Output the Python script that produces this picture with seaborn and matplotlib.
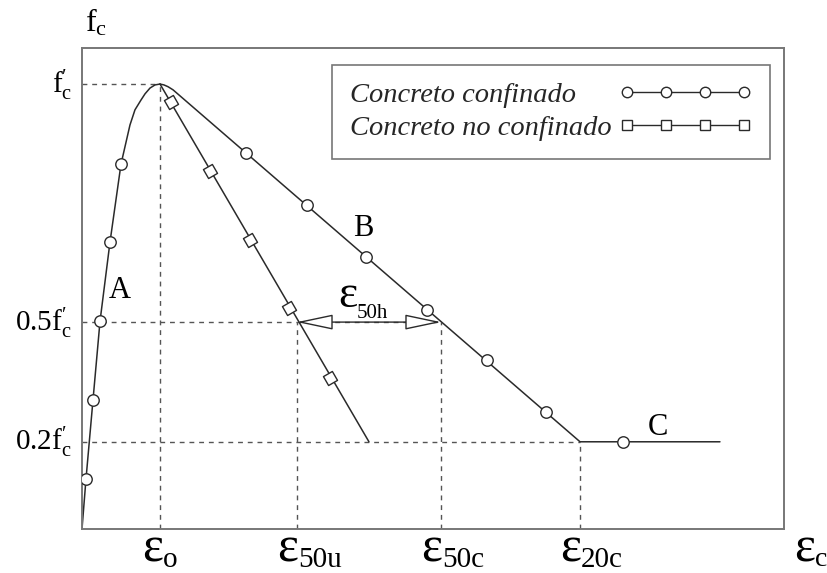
import matplotlib
matplotlib.use("Agg")
import matplotlib.pyplot as plt
import seaborn as sns
from matplotlib.lines import Line2D

# ---------------- data (strain in units of eps_o, stress in units of f'c, as drawn) -------------
eps_tick_pos = [1.0, 2.756, 4.603, 6.385]
eps_tick_subs = ["o", "50u", "50c", "20c"]
fc_tick_pos = [1.0, 0.465, 0.196]
fc_tick_labels = [r"$\mathrm{f}_{\mathrm{c}}^{\prime}$",
                  r"$\mathrm{0.5f}_{\mathrm{c}}^{\prime}$",
                  r"$\mathrm{0.2f}_{\mathrm{c}}^{\prime}$"]

# ascending branch (region A), shared by both concretes
asc_x = [0.0, 0.051, 0.141, 0.231, 0.359, 0.500, 0.615, 0.679, 0.756, 0.808, 0.872, 0.936, 1.0]
asc_y = [0.0, 0.112, 0.290, 0.467, 0.645, 0.820, 0.908, 0.942, 0.964, 0.978, 0.991, 0.998, 1.0]
asc_mk_x = [0.051, 0.141, 0.231, 0.359, 0.500]
asc_mk_y = [0.112, 0.290, 0.467, 0.645, 0.820]

# confined descending branch (B) and plateau (C)
conf_x = [1.0, 1.051, 1.103, 1.167, 6.385, 8.179]
conf_y = [1.0, 0.998, 0.994, 0.987, 0.196, 0.196]
conf_mk_x = [2.103, 2.885, 3.641, 4.423, 5.192, 5.949, 6.936]
conf_mk_y = [0.845, 0.728, 0.611, 0.492, 0.380, 0.263, 0.196]

# unconfined descending branch
unc_x = [1.0, 3.679]
unc_y = [1.0, 0.196]
unc_mk_x = [1.141, 1.641, 2.154, 2.654, 3.179]
unc_mk_y = [0.960, 0.804, 0.649, 0.497, 0.339]

legend_labels = ["Concreto confinado", "Concreto no confinado"]

# ---------------- style ----------------
sns.set_theme(style="white")
plt.rcParams.update({
    "font.family": ["Liberation Serif", "DejaVu Serif"],
    "mathtext.fontset": "custom",
    "mathtext.rm": "Liberation Serif",
    "mathtext.it": "Liberation Serif:italic",
    "mathtext.bf": "Liberation Serif:bold",
})

LC = "#2a2a2a"
GC = "#555555"
PX = 0.72  # pixels -> points at dpi 100

fig = plt.figure(figsize=(8.28, 5.73), dpi=100)
ax = fig.add_axes([82 / 828, 44 / 573, 702 / 828, 481 / 573])
ax.set_xlim(0, 9.0)
ax.set_ylim(0, 1.081)

# curves
for xs, ys in [(asc_x, asc_y), (conf_x, conf_y), (unc_x, unc_y)]:
    sns.lineplot(x=xs, y=ys, ax=ax, color=LC, lw=1.1, sort=False, estimator=None)

# markers
sns.scatterplot(x=asc_mk_x + conf_mk_x, y=asc_mk_y + conf_mk_y, ax=ax, marker="o", s=68,
                color="white", edgecolor=LC, linewidth=1.0, zorder=5)
sns.scatterplot(x=unc_mk_x, y=unc_mk_y, ax=ax, marker=(4, 0, -15), s=110,
                color="white", edgecolor=LC, linewidth=1.0, zorder=5)

# dashed guides
dash = dict(color=GC, lw=1.0, ls=(0, (3.5, 3.5)), zorder=1)
e_o, e_50u, e_50c, e_20c = eps_tick_pos
f_1, f_05, f_02 = fc_tick_pos
ax.plot([0, e_o], [f_1, f_1], **dash)
ax.plot([e_o, e_o], [0, f_1], **dash)
ax.plot([0, e_50c], [f_05, f_05], **dash)
ax.plot([e_50u, e_50u], [0, f_05], **dash)
ax.plot([e_50c, e_50c], [0, f_05], **dash)
ax.plot([0, e_20c], [f_02, f_02], **dash)
ax.plot([e_20c, e_20c], [0, f_02], **dash)

# double arrow eps_50h
ax.annotate("", xy=(e_50u, f_05), xytext=(e_50c, f_05),
            arrowprops=dict(arrowstyle="<|-|>,head_length=1.9,head_width=0.4",
                            fc="white", ec=LC, lw=1.0, shrinkA=0, shrinkB=0), zorder=4)

EPS_FS = 36
SUB_FS = 21


def eps_text(xy, xycoords, sub, dx=1, base=-32, sub_base=-38, efs=EPS_FS, sfs=SUB_FS):
    ax.annotate("ε", xy=xy, xycoords=xycoords, xytext=(dx * PX, base * PX),
                textcoords="offset points", ha="right", va="baseline", fontsize=efs, color="black")
    ax.annotate(sub, xy=xy, xycoords=xycoords, xytext=(dx * PX, sub_base * PX),
                textcoords="offset points", ha="left", va="baseline", fontsize=sfs, color="black")


# x tick labels
ax.set_xticks([])
ax.set_yticks([])
for pos, sub in zip(eps_tick_pos, eps_tick_subs):
    eps_text((pos, 0), ("data", "axes fraction"), sub, dx=3 if sub == "o" else 1)

# eps_c axis label
eps_text((1, 0), "axes fraction", "c", dx=31, base=-33, sub_base=-37, sfs=20)

# y tick labels
for pos, lab in zip(fc_tick_pos, fc_tick_labels):
    ax.annotate(lab, xy=(0, pos), xycoords=("axes fraction", "data"),
                xytext=(-10 * PX, -9 * PX), textcoords="offset points",
                ha="right", va="baseline", fontsize=21, color="black")

# f_c axis label
ax.annotate(r"$\mathrm{f}_{\mathrm{c}}$", xy=(0, 1), xycoords="axes fraction",
            xytext=(3 * PX, 16 * PX), textcoords="offset points",
            ha="left", va="baseline", fontsize=23, color="black")

# eps_50h label
ax.text(3.526, 0.499, "ε", ha="right", va="baseline", fontsize=33, color="black")
ax.text(3.526, 0.474, "50h", ha="left", va="baseline", fontsize=15, color="black")

# region labels
for lab, x, y in [("A", 0.487, 0.537), ("B", 3.603, 0.676), ("C", 7.385, 0.227)]:
    ax.text(x, y, lab, ha="center", va="center", fontsize=22, color="black")

# legend
h1 = Line2D([], [], color=LC, lw=1.0, marker="o", ms=7.5, mfc="white", mec=LC)
h2 = Line2D([], [], color=LC, lw=1.0, marker="s", ms=6.5, mfc="white", mec=LC)
leg = ax.legend([h1, h2], legend_labels, loc="upper right", bbox_to_anchor=(0.980, 0.965),
                numpoints=4, handlelength=4.7, markerfirst=False, frameon=True, fancybox=False,
                edgecolor="#555555", prop=dict(family="Liberation Serif", style="italic", size=20.5),
                borderpad=0.62, labelspacing=0.24, handletextpad=0.25, borderaxespad=0)
leg.get_frame().set_linewidth(1.2)

# left-align the labels while keeping the handles flush right
fig.canvas.draw()
rend = fig.canvas.get_renderer()
widths = [t.get_window_extent(rend).width for t in leg.get_texts()]
items = leg._legend_handle_box.get_children()[0].get_children()
for item, w in zip(items, widths):
    item.sep = item.sep + (max(widths) - w) * 72.0 / fig.dpi

for sp in ax.spines.values():
    sp.set_color("#777777")
    sp.set_linewidth(1.4)

fig.savefig("out.png", dpi=100)
